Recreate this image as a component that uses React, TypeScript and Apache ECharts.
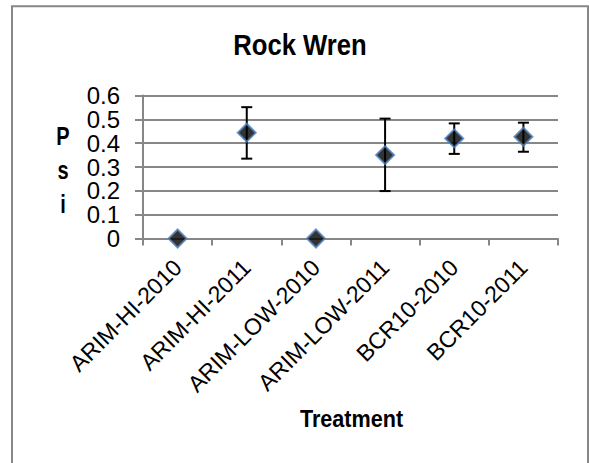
import React, { useEffect, useRef } from "react";
import * as echarts from "echarts";

// Occupancy estimates (psi) per treatment, with the interval bounds
const treatments = [
  "ARIM-HI-2010",
  "ARIM-HI-2011",
  "ARIM-LOW-2010",
  "ARIM-LOW-2011",
  "BCR10-2010",
  "BCR10-2011",
];
const psi = [0, 0.444, 0, 0.35, 0.42, 0.427];
const psiLower: (number | null)[] = [null, 0.335, null, 0.199, 0.355, 0.364];
const psiUpper: (number | null)[] = [null, 0.551, null, 0.503, 0.483, 0.486];
const yTicks = [0, 0.1, 0.2, 0.3, 0.4, 0.5, 0.6];

const FONT = '"Liberation Sans", Arial, sans-serif';
const GRID_GRAY = "#878787";

export default function App() {
  const ref = useRef<HTMLDivElement>(null);

  useEffect(() => {
    if (!ref.current) return;
    const chart = echarts.init(ref.current, null, { renderer: "svg" });

    const errorData = treatments.map((_, i) => [i, psiLower[i], psiUpper[i]]);

    chart.setOption({
      animation: false,
      backgroundColor: "#ffffff",
      grid: { left: 143, right: 31, top: 95.5, bottom: 224.5, containLabel: false },
      xAxis: {
        type: "category",
        data: treatments,
        boundaryGap: true,
        axisLine: { show: true, lineStyle: { color: GRID_GRAY, width: 2 } },
        axisTick: {
          show: true,
          interval: 0,
          length: 7,
          lineStyle: { color: GRID_GRAY, width: 2 },
        },
        axisLabel: {
          interval: 0,
          rotate: 45,
          margin: 25,
          hideOverlap: false,
          fontFamily: FONT,
          fontSize: 23,
          color: "#000",
        },
      },
      yAxis: {
        type: "value",
        min: 0,
        max: 0.6,
        interval: 0.1,
        axisLine: { show: true, lineStyle: { color: GRID_GRAY, width: 2 } },
        axisTick: { show: true, length: 8, lineStyle: { color: GRID_GRAY, width: 2 } },
        splitLine: { show: true, lineStyle: { color: GRID_GRAY, width: 2 } },
        axisLabel: {
          margin: 23,
          showMinLabel: true,
          showMaxLabel: true,
          hideOverlap: false,
          fontFamily: FONT,
          fontSize: 24,
          color: "#000",
          formatter: (v: number) => {
            const t = yTicks.find((k) => Math.abs(k - v) < 1e-9);
            return t === 0 ? "0" : (t ?? v).toFixed(1);
          },
        },
      },
      graphic: [
        {
          type: "rect",
          silent: true,
          shape: { x: 12, y: 6.3, width: 576, height: 480 },
          style: { fill: "none", stroke: GRID_GRAY, lineWidth: 2 },
          z: 100,
        },
        {
          type: "text",
          x: 300,
          y: 44.5,
          scaleX: 0.885,
          style: {
            text: "Rock Wren",
            font: `bold 29px ${FONT}`,
            align: "center",
            verticalAlign: "middle",
            fill: "#000",
          },
        },
        {
          type: "text",
          x: 63,
          y: 170.5,
          scaleX: 0.8,
          style: {
            text: "P\ns\ni",
            font: `bold 25px ${FONT}`,
            lineHeight: 34,
            align: "center",
            verticalAlign: "middle",
            fill: "#000",
          },
        },
        {
          type: "text",
          x: 351.5,
          y: 419,
          scaleX: 0.9,
          style: {
            text: "Treatment",
            font: `bold 24px ${FONT}`,
            align: "center",
            verticalAlign: "middle",
            fill: "#000",
          },
        },
      ],
      series: [
        {
          type: "custom",
          name: "interval",
          z: 2,
          data: errorData,
          renderItem: (params: any, api: any) => {
            const lo = api.value(1);
            const hi = api.value(2);
            if (lo == null || hi == null || isNaN(lo) || isNaN(hi)) return null;
            const x = api.value(0);
            const pLo = api.coord([x, lo]);
            const pHi = api.coord([x, hi]);
            const half = 5.5;
            const style = { stroke: "#000", lineWidth: 2 };
            return {
              type: "group",
              children: [
                { type: "line", shape: { x1: pLo[0], y1: pLo[1], x2: pHi[0], y2: pHi[1] }, style },
                { type: "line", shape: { x1: pHi[0] - half, y1: pHi[1], x2: pHi[0] + half, y2: pHi[1] }, style },
                { type: "line", shape: { x1: pLo[0] - half, y1: pLo[1], x2: pLo[0] + half, y2: pLo[1] }, style },
              ],
            };
          },
        },
        {
          type: "scatter",
          name: "Psi",
          z: 3,
          data: psi,
          symbol: "diamond",
          symbolSize: 18,
          itemStyle: { color: "#000", borderColor: "#4f81bd", borderWidth: 2 },
        },
      ],
    });

    return () => chart.dispose();
  }, []);

  return (
    <div
      ref={ref}
      style={{ position: "absolute", left: 0, top: 0, width: 589, height: 463 }}
    />
  );
}
